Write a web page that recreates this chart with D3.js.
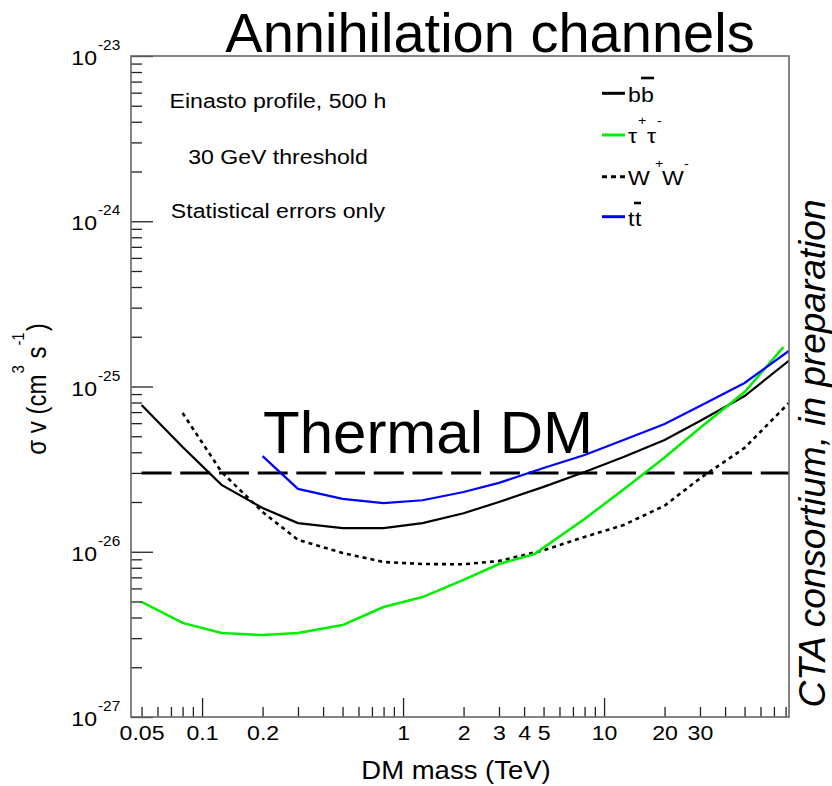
<!DOCTYPE html>
<html><head><meta charset="utf-8">
<script src="https://cdn.jsdelivr.net/npm/d3@7"></script>
<style>
body{margin:0;background:#fff}
text{font-family:"Liberation Sans",Arial,Helvetica,sans-serif;fill:#000}
</style>
</head><body>
<svg id="c" width="832" height="786"></svg>
<script>
// ---------------- data ----------------
const bbMasses  = [0.05,0.08,0.125,0.2,0.3,0.5,0.8,1.25,2,3,5,8,12.5,20,30,50,83];
const bbValues  = [7.73e-26,4.30e-26,2.54e-26,1.84e-26,1.49e-26,1.39e-26,1.39e-26,1.49e-26,1.71e-26,2.00e-26,2.47e-26,3.04e-26,3.74e-26,4.75e-26,6.18e-26,8.76e-26,1.43e-25];
const tauMasses = [0.05,0.08,0.125,0.2,0.3,0.5,0.8,1.25,2,3,4.5,8,12.5,20,30,50,78];
const tauValues = [4.97e-27,3.71e-27,3.22e-27,3.13e-27,3.22e-27,3.60e-27,4.63e-27,5.32e-27,6.75e-27,8.43e-27,9.69e-27,1.58e-26,2.38e-26,3.72e-26,5.61e-26,9.26e-26,1.73e-25];
const wwMasses  = [0.08,0.125,0.2,0.3,0.5,0.8,1.25,2,3,5,8,12.5,20,30,50,83];
const wwValues  = [6.91e-26,3.04e-26,1.74e-26,1.18e-26,9.83e-27,8.67e-27,8.43e-27,8.40e-27,8.79e-27,1.02e-26,1.23e-26,1.45e-26,1.90e-26,2.78e-26,4.25e-26,7.94e-26];
const ttMasses  = [0.2,0.3,0.5,0.8,1.25,2,3,5,8,12.5,20,30,50,83];
const ttValues  = [3.79e-26,2.40e-26,2.09e-26,1.97e-26,2.05e-26,2.30e-26,2.61e-26,3.21e-26,3.85e-26,4.75e-26,5.93e-26,7.62e-26,1.05e-25,1.64e-25];
const thermalMasses = [0.05,90];
const thermalValue  = 3e-26;
const xLabels = [0.05,0.1,0.2,1,2,3,4,5,10,20,30];
const yExponents = [-27,-26,-25,-24,-23];
const noteLines = ["Einasto profile, 500 h","30 GeV threshold","Statistical errors only"];

// ---------------- layout ----------------
const L=131,R=789,T=56,B=717;
const x = d3.scaleLog().domain([0.0443,83.2]).range([L,R]);
const y = d3.scaleLog().domain([1e-27,1e-23]).range([B,T]);
const svg = d3.select('#c');
const isMajor = v => Math.abs(Math.log10(v)-Math.round(Math.log10(v)))<1e-6;

svg.append('defs').append('clipPath').attr('id','clip')
  .append('rect').attr('x',L).attr('y',T).attr('width',R-L).attr('height',B-T);

// ---------------- curves ----------------
const line = d3.line().x(d=>x(d[0])).y(d=>y(d[1]));
const gc = svg.append('g').attr('clip-path','url(#clip)');
const zip = (a,b)=>a.map((m,i)=>[m,b[i]]);

gc.append('path').datum(thermalMasses.map(m=>[m,thermalValue])).attr('d',line)
  .attr('fill','none').attr('stroke','#000').attr('stroke-width',3).attr('stroke-dasharray','30,8.7');
gc.append('path').datum(zip(wwMasses,wwValues)).attr('d',line)
  .attr('fill','none').attr('stroke','#000').attr('stroke-width',2.6).attr('stroke-dasharray','4,4');
gc.append('path').datum(zip(bbMasses,bbValues)).attr('d',line)
  .attr('fill','none').attr('stroke','#000').attr('stroke-width',2.2);
gc.append('path').datum(zip(tauMasses,tauValues)).attr('d',line)
  .attr('fill','none').attr('stroke','#00ee00').attr('stroke-width',2.5);
gc.append('path').datum(zip(ttMasses,ttValues)).attr('d',line)
  .attr('fill','none').attr('stroke','#0000ff').attr('stroke-width',2.2);

// ---------------- axes ----------------
const xTicks=[];
for(let d=-2;d<=1;d++) for(let k=1;k<=9;k++){const v=+(k*Math.pow(10,d)).toPrecision(3); if(v>=0.0443&&v<=83.2) xTicks.push(v);}
const gx = svg.append('g').attr('transform',`translate(0,${B})`)
  .call(d3.axisBottom(x).tickValues(xTicks).tickSizeInner(-10).tickSizeOuter(0)
        .tickFormat(v=>xLabels.includes(v)?String(v):''));
gx.attr('font-family',null).attr('font-size',null);
gx.select('.domain').remove();
gx.selectAll('.tick line').attr('y2',d=>isMajor(d)?-19:-10).attr('stroke','#222').attr('stroke-width',1.3);
gx.selectAll('.tick text').attr('y',23).attr('dy',0).attr('font-size',21).attr('fill','#000')
  .attr('transform','scale(1.1,1)');

const yTicks=[];
for(let d=-27;d<=-24;d++) for(let k=1;k<=9;k++) yTicks.push(+(k*Math.pow(10,d)).toPrecision(3));
yTicks.push(1e-23);
const gy = svg.append('g').attr('transform',`translate(${L},0)`)
  .call(d3.axisLeft(y).tickValues(yTicks).tickSizeInner(-11).tickSizeOuter(0).tickFormat(''));
gy.select('.domain').remove();
gy.selectAll('.tick line').attr('x2',d=>isMajor(d)?22:11).attr('stroke','#222').attr('stroke-width',1.3);

yExponents.forEach(e=>{
  const yy = y(Math.pow(10,e));
  svg.append('text').attr('transform',`translate(97,${yy+9}) scale(1.1,1)`)
    .attr('text-anchor','end').attr('font-size',21).text('10');
  svg.append('text').attr('transform',`translate(98,${yy-6}) scale(1.1,1)`)
    .attr('font-size',14).text(String(e));
});

// frame
svg.append('rect').attr('x',L).attr('y',T).attr('width',R-L).attr('height',B-T)
  .attr('fill','none').attr('stroke','#666').attr('stroke-width',1.6);

// axis titles
svg.append('text').attr('transform','translate(456,779) scale(1.1,1)').attr('text-anchor','middle')
  .attr('font-size',25).text('DM mass (TeV)');

const yt = svg.append('text').attr('transform','translate(46,389) scale(1.12,1) rotate(-90)')
  .attr('text-anchor','middle').attr('font-size',24);
yt.append('tspan').text('σ v (cm');
yt.append('tspan').attr('dy',-20).attr('dx',1).attr('font-size',15).text('3');
yt.append('tspan').attr('dy',20).text(' s');
yt.append('tspan').attr('dy',-20).attr('dx',1).attr('font-size',15).text('-1');
yt.append('tspan').attr('dy',20).attr('dx',1).text(')');

// title & annotations
svg.append('text').attr('x',490).attr('y',52).attr('text-anchor','middle').attr('font-size',56)
  .text('Annihilation channels');
svg.append('text').attr('x',263).attr('y',453).attr('font-size',60).text('Thermal DM');
svg.append('text').attr('transform','translate(825,453.5) rotate(-90)').attr('text-anchor','middle')
  .attr('font-size',37).attr('font-style','italic').text('CTA consortium, in preparation');

const noteY=[108,164,218];
noteLines.forEach((t,i)=>{
  svg.append('text').attr('transform',`translate(278,${noteY[i]}) scale(1.1,1)`)
    .attr('text-anchor','middle').attr('font-size',21).text(t);
});

// legend
const lg = svg.append('g');
const legY=[93.3,135,176.7,216.7];
const legStyle=[{c:'#000',d:null},{c:'#00ee00',d:null},{c:'#000',d:'5,4'},{c:'#0000ff',d:null}];
legY.forEach((ly,i)=>{
  lg.append('line').attr('x1',602).attr('x2',625).attr('y1',ly).attr('y2',ly)
    .attr('stroke',legStyle[i].c).attr('stroke-width',3).attr('stroke-dasharray',legStyle[i].d);
});
function glyph(x0,y0,size,txt){
  lg.append('text').attr('transform',`translate(${x0},${y0}) scale(1.1,1)`).attr('font-size',size).text(txt);
}
function bar(x1,x2,yy){
  lg.append('line').attr('x1',x1).attr('x2',x2).attr('y1',yy).attr('y2',yy).attr('stroke','#000').attr('stroke-width',2.6);
}
// b bbar
glyph(628,102,21,'b'); glyph(641,102,21,'b'); bar(641,654,78);
// tau+ tau-
glyph(628,143,21,'τ'); glyph(638,125,13,'+'); glyph(647,143,21,'τ'); glyph(657,125,13,'-');
// W+ W-
glyph(628,185,21,'W'); glyph(655,168,13,'+'); glyph(662,185,21,'W'); glyph(684,168,13,'-');
// t tbar
glyph(628,226,21,'t'); glyph(635,226,21,'t'); bar(634,641,203);
</script>
</body></html>
